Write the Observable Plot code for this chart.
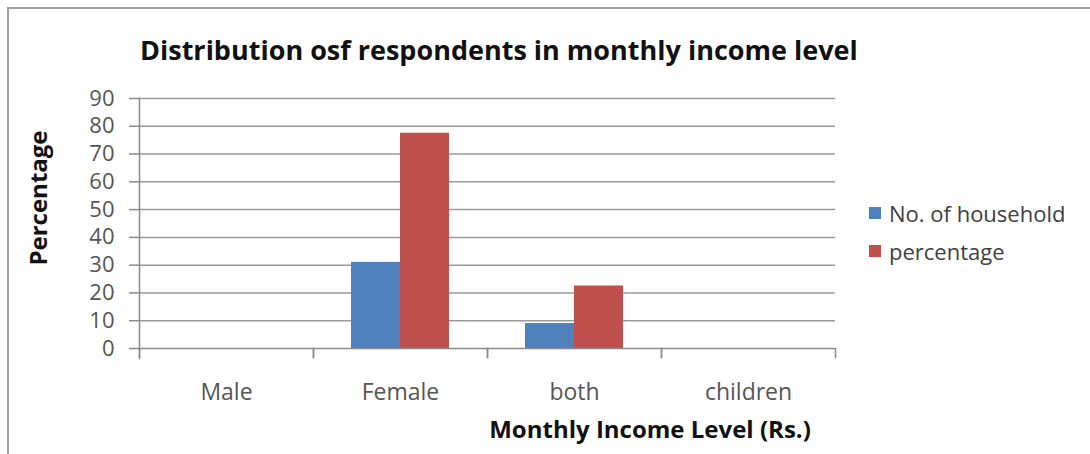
<!DOCTYPE html>
<html><head><meta charset="utf-8">
<script src="https://cdn.jsdelivr.net/npm/d3@7"></script>
<script src="https://cdn.jsdelivr.net/npm/@observablehq/plot@0.6"></script>
<style>
body{margin:0;background:#fff;font-family:"Open Sans",Lato,sans-serif;}
#wrap{position:relative;width:1090px;height:454px;overflow:hidden;}
#border{position:absolute;left:7px;top:7px;width:1100px;height:470px;border:2px solid #a0a0a0;box-sizing:border-box;}
#title{position:absolute;left:140px;top:36px;font-size:27px;line-height:1;font-weight:bold;color:#111;white-space:nowrap;}
#ylab{position:absolute;left:38px;top:198px;transform:translate(-50%,-50%) rotate(-90deg);font-size:24px;line-height:1;font-weight:bold;color:#111;white-space:nowrap;}
#xlab{position:absolute;left:650px;top:429px;transform:translate(-50%,-50%);font-size:24px;line-height:1;font-weight:bold;color:#111;white-space:nowrap;}
#legend{position:absolute;left:869px;top:194px;font-size:22px;color:#404040;}
.li{display:flex;align-items:center;height:38px;}
.sw{width:12px;height:12px;margin-right:8px;flex:none;}
#plot{position:absolute;left:0;top:0;}
</style></head>
<body><div id="wrap"><div id="border"></div><div id="plot"></div>
<div id="title">Distribution osf respondents in monthly income level</div>
<div id="ylab">Percentage</div>
<div id="xlab">Monthly Income Level (Rs.)</div>
<div id="legend"></div></div>
<script>
const categories = ["Male","Female","both","children"];
const series = ["No. of household","percentage"];
const households = [0,31,9,0];
const percentage = [0,77.5,22.5,0];
const yTicks = [0,10,20,30,40,50,60,70,80,90];
const colors = ["#4F81BD","#C0504D"];

const data = [];
categories.forEach((c,i)=>{
  data.push({cat:c, series:series[0], value:households[i]});
  data.push({cat:c, series:series[1], value:percentage[i]});
});

const axisStroke = "#8a8a8a";
const chart = Plot.plot({
  width:1090, height:454,
  marginLeft:138, marginRight:255, marginTop:98, marginBottom:106,
  style:{fontFamily:"'Open Sans', Lato, sans-serif", background:"transparent"},
  fx:{domain:categories, padding:0},
  x:{domain:series, padding:0, paddingOuter:0.76, axis:null},
  y:{domain:[0,90]},
  color:{domain:series, range:colors},
  marks:[
    Plot.ruleY(yTicks.filter(d=>d>0), {stroke:"#9a9a9a", strokeWidth:1.5}),
    Plot.barY(data, {fx:"cat", x:"series", y:"value", fill:"series"}),
    Plot.ruleY([0], {stroke:axisStroke, strokeWidth:1.5}),
    Plot.frame({anchor:"left", facet:"super", stroke:axisStroke, strokeWidth:1.5, strokeOpacity:1, insetBottom:-10}),
    Plot.frame({anchor:"left", stroke:axisStroke, strokeWidth:1.5, strokeOpacity:1, insetTop:250, insetBottom:-9}),
    Plot.frame({anchor:"right", stroke:axisStroke, strokeWidth:1.5, strokeOpacity:1, insetTop:250, insetBottom:-9}),
    Plot.axisY({ticks:yTicks, tickSize:10, tickPadding:15, fontSize:22, color:"#555", stroke:axisStroke, strokeWidth:1.5, label:null, strokeOpacity:1}),
    Plot.axisFx({anchor:"bottom", tickSize:0, tickPadding:35, fontSize:23, color:"#555", label:null})
  ]
});
document.getElementById("plot").appendChild(chart);

const lg = document.getElementById("legend");
series.forEach((s,i)=>{
  const d=document.createElement("div");d.className="li";
  d.innerHTML=`<span class="sw" style="background:${colors[i]}"></span><span>${s}</span>`;
  lg.appendChild(d);
});
</script></body></html>
